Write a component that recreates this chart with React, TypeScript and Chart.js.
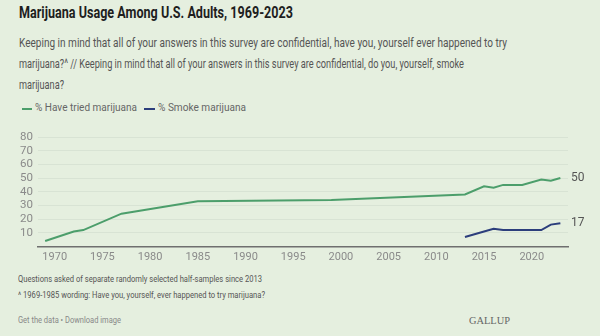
import React, { useEffect, useLayoutEffect, useRef } from "react";
import { Chart, registerables } from "chart.js";

Chart.register(...registerables);

const triedYears = [1969, 1972, 1973, 1977, 1985, 1999, 2013, 2015, 2016, 2017, 2019, 2021, 2022, 2023];
const triedValues = [4, 11, 12, 24, 33, 34, 38, 44, 43, 45, 45, 49, 48, 50];
const smokeYears = [2013, 2015, 2016, 2017, 2019, 2021, 2022, 2023];
const smokeValues = [7, 11, 13, 12, 12, 12, 16, 17];
const xTickValues = [1970, 1975, 1980, 1985, 1990, 1995, 2000, 2005, 2010, 2015, 2020];
const yTickValues = [10, 20, 30, 40, 50, 60, 70, 80];

const seriesNames = ["% Have tried marijuana", "% Smoke marijuana"];
const seriesColors = ["#4c9e6b", "#2c3e7c"];

const titleText = "Marijuana Usage Among U.S. Adults, 1969-2023";
const subtitleLines = [
  "Keeping in mind that all of your answers in this survey are confidential, have you, yourself ever happened to try",
  "marijuana?^ // Keeping in mind that all of your answers in this survey are confidential, do you, yourself, smoke",
  "marijuana?",
];
const footnotes = [
  "Questions asked of separate randomly selected half-samples since 2013",
  "^ 1969-1985 wording: Have you, yourself, ever happened to try marijuana?",
];

const BG = "#e5efdf";
const FONT = "Roboto, 'Noto Sans', sans-serif";

function FitText(props: { text: string; top: number; left: number; width?: number; scale?: number; style: any }) {
  const ref = useRef<HTMLSpanElement | null>(null);
  useLayoutEffect(() => {
    const el = ref.current;
    if (!el) return;
    el.style.transform = "none";
    const w = el.getBoundingClientRect().width;
    let s = props.scale ?? 1;
    if (props.width && w > 0) s = props.width / w;
    el.style.transform = `scaleX(${s})`;
  });
  return (
    <span
      ref={ref}
      style={{
        position: "absolute",
        top: props.top,
        left: props.left,
        whiteSpace: "nowrap",
        display: "inline-block",
        transformOrigin: "0 0",
        ...props.style,
      }}
    >
      {props.text}
    </span>
  );
}

const endLabels = {
  id: "endLabels",
  afterDatasetsDraw(chart: any) {
    const ctx = chart.ctx;
    ctx.save();
    ctx.font = `12px ${FONT}`;
    ctx.fillStyle = "#555";
    ctx.textAlign = "left";
    ctx.textBaseline = "middle";
    chart.data.datasets.forEach((ds: any, i: number) => {
      const meta = chart.getDatasetMeta(i);
      const pt = meta.data[meta.data.length - 1];
      const v = ds.data[ds.data.length - 1].y;
      ctx.fillText(String(v), chart.chartArea.right + 3, pt.y);
    });
    ctx.restore();
  },
};

function LineChart() {
  const ref = useRef<HTMLCanvasElement | null>(null);
  useEffect(() => {
    if (!ref.current) return;
    const chart = new Chart(ref.current, {
      type: "line",
      data: {
        datasets: [
          {
            label: seriesNames[0],
            data: triedYears.map((y, i) => ({ x: y, y: triedValues[i] })),
            borderColor: seriesColors[0],
            borderWidth: 2,
            pointRadius: 0,
            tension: 0,
          },
          {
            label: seriesNames[1],
            data: smokeYears.map((y, i) => ({ x: y, y: smokeValues[i] })),
            borderColor: seriesColors[1],
            borderWidth: 2,
            pointRadius: 0,
            tension: 0,
          },
        ],
      },
      options: {
        animation: false,
        responsive: false,
        maintainAspectRatio: false,
        layout: { padding: { top: 17, right: 32, left: 0, bottom: 0 } },
        plugins: { legend: { display: false }, tooltip: { enabled: false } },
        scales: {
          x: {
            type: "linear",
            min: 1968.25,
            max: 2023.8,
            afterBuildTicks: (s: any) => {
              s.ticks = xTickValues.map((v) => ({ value: v }));
            },
            afterFit: (s: any) => {
              s.height = 21.5;
            },
            grid: { display: false, drawTicks: false },
            border: { display: true, color: "#6f6f6f", width: 1.5 },
            ticks: {
              padding: 4,
              color: "#8a8a8a",
              font: { family: FONT, size: 11 },
              maxRotation: 0,
              autoSkip: false,
              callback: (v: any) => String(v),
            },
          },
          y: {
            min: 0,
            max: 80,
            afterBuildTicks: (s: any) => {
              s.ticks = yTickValues.map((v) => ({ value: v }));
            },
            afterFit: (s: any) => {
              s.width = 38;
            },
            grid: { color: "#d8e3d4", lineWidth: 1, drawTicks: false },
            border: { display: false },
            ticks: {
              padding: 5,
              color: "#8a8a8a",
              autoSkip: false,
              font: { family: FONT, size: 11.5 },
              callback: (v: any) => String(v),
            },
          },
        },
      },
      plugins: [endLabels],
    } as any);
    return () => chart.destroy();
  }, []);
  return <canvas ref={ref} width={600} height={148} style={{ position: "absolute", left: 0, top: 120, width: 600, height: 148 }} />;
}

export default function App() {
  const sub = { fontSize: 13.5, color: "#555", lineHeight: "21px" };
  const foot = { fontSize: 9.5, color: "#555", lineHeight: "12px" };
  const leg = { fontSize: 11, color: "#666", lineHeight: "14px" };
  return (
    <div style={{ position: "fixed", left: 0, top: 0, width: 600, height: 336, background: BG, fontFamily: FONT, overflow: "hidden" }}>
      <FitText text={titleText} top={2.5} left={19} width={274} style={{ fontSize: 16, fontWeight: 700, color: "#1e1e1e", lineHeight: "20px" }} />
      <FitText text={subtitleLines[0]} top={31.5} left={19} width={488} style={sub} />
      <FitText text={subtitleLines[1]} top={52.5} left={19} width={445} style={sub} />
      <FitText text={subtitleLines[2]} top={73.5} left={19} width={45} style={sub} />

      <span style={{ position: "absolute", left: 22, top: 107.5, width: 10, height: 2, background: seriesColors[0] }} />
      <FitText text={seriesNames[0]} top={101.3} left={35} width={102} style={leg} />
      <span style={{ position: "absolute", left: 144, top: 107.5, width: 11, height: 2, background: seriesColors[1] }} />
      <FitText text={seriesNames[1]} top={101.3} left={158} width={88} style={leg} />

      <LineChart />

      <FitText text={footnotes[0]} top={273.3} left={18} width={244} style={foot} />
      <FitText text={footnotes[1]} top={289.3} left={18} width={247} style={foot} />
      <FitText text="Get the data • Download image" top={313.7} left={18} width={103} style={{ ...foot, color: "#888" }} />
      <FitText
        text="GALLUP"
        top={312.6}
        left={469}
        width={41}
        style={{ fontSize: 11, color: "#666", lineHeight: "14px", fontFamily: "'Liberation Serif', 'DejaVu Serif', serif" }}
      />
    </div>
  );
}
